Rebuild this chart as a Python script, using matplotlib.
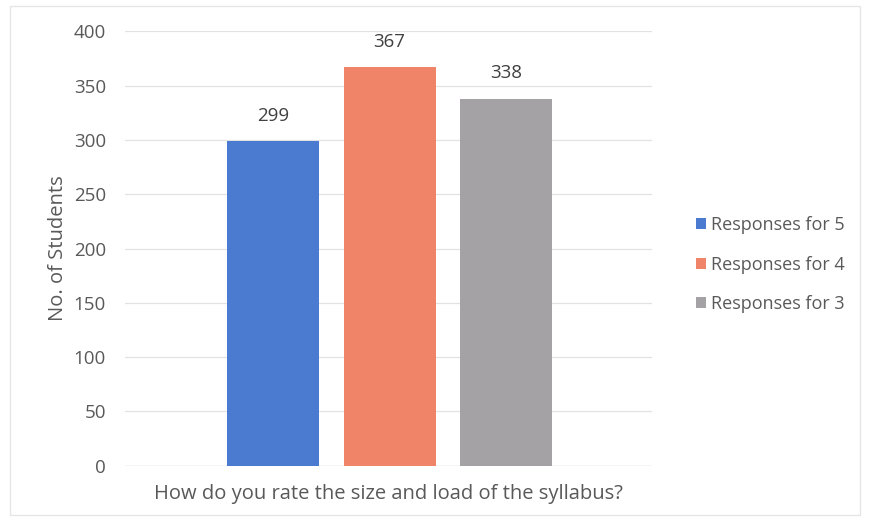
import numpy as np
import matplotlib.pyplot as plt
from matplotlib.patches import Rectangle

# Data
series = ["Responses for 5", "Responses for 4", "Responses for 3"]
counts = [299, 367, 338]
colors = ["#4a7bd0", "#ef8468", "#a4a2a4"]
yticks = [0, 50, 100, 150, 200, 250, 300, 350, 400]

plt.rcParams.update({
    "font.family": ["Open Sans", "DejaVu Sans"],
    "font.size": 13,
    "text.color": "#595959",
    "axes.labelcolor": "#595959",
    "xtick.color": "#595959",
    "ytick.color": "#595959",
})

fig = plt.figure(figsize=(8.7, 5.21), dpi=100)
ax = fig.add_axes([0.144, 0.106, 0.605, 0.834])

x = np.arange(len(series))
for i, (name, val, c) in enumerate(zip(series, counts, colors)):
    ax.bar(x[i], val, width=0.79, color=c, label=name, zorder=2)
    ax.text(x[i], val + 15, str(val), ha="center", va="bottom",
            fontsize=13.5, color="#404040")

ax.set_xlim(-1.27, 3.25)
ax.set_ylim(0, 400)
ax.set_yticks(yticks)
ax.set_xticks([])
ax.yaxis.grid(True, color="#e2e2e2", linewidth=0.9, zorder=0)
ax.tick_params(axis="y", length=0, pad=14, labelsize=13.5)
for s in ax.spines.values():
    s.set_visible(False)
ax.axhline(0, color="#dcdcdc", linewidth=1, zorder=1)

ax.set_ylabel("No. of Students", fontsize=14.5, labelpad=4)
ax.set_xlabel("How do you rate the size and load of the syllabus?",
              fontsize=14.5, labelpad=13)

ax.legend(loc="center left", bbox_to_anchor=(1.053, 0.463), frameon=False,
          fontsize=13, handlelength=0.55, handleheight=0.55,
          handletextpad=0.3, labelspacing=1.2)

# light outer border like the chart area
fig.patches.append(Rectangle((0.012, 0.012), 0.976, 0.976, transform=fig.transFigure,
                             fill=False, edgecolor="#e6e6e6", linewidth=1))

fig.savefig("out.png", dpi=100, facecolor="white")
